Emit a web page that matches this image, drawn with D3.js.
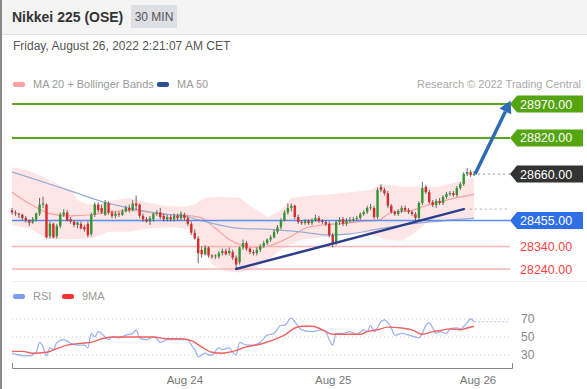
<!DOCTYPE html>
<html>
<head>
<meta charset="utf-8">
<script src="https://cdn.jsdelivr.net/npm/d3@7"></script>
<style>
  body { margin: 0; background: #fff; }
  svg { display: block; font-family: "Liberation Sans", Arial, sans-serif; }
</style>
</head>
<body>
<div id="chart"></div>
<script>
// candles, [open, high, low, close], 30 min bars
const ohlc = [
  [28500,28510,28480,28490],[28490,28500,28475,28485],[28485,28490,28465,28480],[28480,28485,28455,28465],
  [28465,28475,28445,28455],[28455,28460,28430,28445],[28445,28470,28440,28460],[28460,28490,28450,28485],
  [28485,28555,28475,28525],[28525,28560,28510,28530],[28525,28530,28375,28380],[28385,28450,28375,28440],
  [28440,28445,28375,28380],[28385,28440,28375,28430],[28430,28490,28420,28480],[28480,28505,28470,28490],
  [28490,28500,28450,28455],[28460,28470,28440,28450],[28450,28455,28425,28435],[28435,28450,28420,28445],
  [28440,28450,28415,28420],[28425,28435,28405,28415],[28440,28450,28380,28390],[28395,28490,28385,28480],
  [28480,28535,28470,28525],[28525,28535,28490,28500],[28510,28525,28485,28490],[28480,28545,28475,28535],
  [28530,28540,28480,28490],[28490,28500,28465,28475],[28475,28495,28465,28485],[28485,28495,28470,28480],
  [28480,28505,28475,28495],[28495,28520,28490,28510],[28510,28525,28490,28500],[28500,28545,28495,28530],
  [28530,28565,28500,28520],[28525,28530,28465,28475],[28475,28485,28450,28460],[28460,28470,28445,28450],
  [28450,28475,28435,28465],[28460,28490,28450,28485],[28485,28500,28475,28490],[28490,28510,28460,28470],
  [28475,28485,28450,28460],[28460,28480,28450,28470],[28470,28480,28450,28460],[28460,28485,28450,28475],
  [28475,28485,28455,28465],[28465,28495,28455,28485],[28480,28490,28455,28465],[28465,28475,28430,28440],
  [28440,28450,28390,28400],[28400,28415,28370,28375],[28375,28385,28265,28310],[28325,28340,28290,28305],
  [28305,28345,28300,28335],[28335,28340,28290,28300],[28300,28305,28285,28295],[28295,28305,28285,28300],
  [28295,28320,28285,28310],[28310,28330,28300,28320],[28320,28330,28300,28305],[28310,28335,28300,28320],
  [28315,28325,28280,28290],[28290,28300,28240,28260],[28270,28340,28260,28335],[28335,28370,28325,28355],
  [28355,28365,28320,28330],[28330,28335,28305,28315],[28315,28325,28300,28310],[28310,28335,28300,28325],
  [28325,28350,28315,28340],[28340,28365,28335,28355],[28355,28375,28345,28370],[28370,28390,28360,28380],
  [28380,28415,28375,28405],[28405,28435,28395,28425],[28425,28465,28415,28455],[28455,28500,28450,28490],
  [28490,28530,28480,28510],[28510,28530,28495,28520],[28520,28525,28460,28470],[28470,28480,28440,28448],
  [28448,28455,28435,28443],[28443,28460,28435,28452],[28452,28460,28435,28443],[28443,28465,28435,28457],
  [28457,28480,28448,28466],[28466,28475,28443,28452],[28452,28460,28440,28448],[28448,28455,28430,28440],
  [28440,28450,28380,28390],[28390,28400,28335,28355],[28355,28455,28345,28448],[28448,28470,28435,28457],
  [28460,28470,28430,28440],[28440,28465,28430,28452],[28452,28470,28445,28457],[28457,28470,28448,28461],
  [28461,28475,28452,28466],[28466,28490,28457,28483],[28483,28500,28475,28492],[28492,28520,28483,28510],
  [28510,28528,28500,28514],[28510,28520,28460,28470],[28470,28600,28460,28590],[28603,28615,28580,28590],
  [28590,28600,28565,28575],[28575,28585,28510,28520],[28520,28528,28485,28492],[28492,28500,28475,28483],
  [28483,28505,28475,28497],[28497,28520,28488,28510],[28510,28520,28492,28500],[28500,28510,28483,28492],
  [28492,28500,28475,28483],[28483,28492,28448,28466],[28466,28540,28457,28532],[28532,28625,28523,28598],
  [28603,28612,28572,28580],[28580,28590,28528,28536],[28536,28545,28514,28523],[28523,28550,28510,28541],
  [28541,28554,28523,28532],[28532,28567,28523,28559],[28559,28581,28550,28572],[28572,28585,28563,28576],
  [28576,28585,28559,28567],[28567,28607,28559,28598],[28598,28625,28590,28616],[28616,28669,28607,28660],
  [28660,28687,28651,28669],[28669,28678,28647,28656],[28656,28673,28651,28660]
];

// indicator readings as [bar index, value]
const bbUpper = [[0,28690],[4,28680],[8,28655],[12,28625],[17,28590],[19,28545],[22,28525],[26,28530],[30,28545],
  [34,28555],[39,28535],[44,28520],[50,28515],[53,28525],[56,28555],[60,28560],[66,28555],[71,28500],[74,28470],
  [78,28500],[81,28555],[87,28565],[92,28570],[98,28580],[104,28590],[107,28615],[113,28605],[119,28605],
  [124,28605],[129,28625],[134,28645]];
const bbLower = [[0,28435],[5,28420],[10,28375],[17,28370],[23,28375],[28,28405],[34,28405],[40,28420],[47,28425],
  [52,28415],[55,28345],[58,28260],[62,28230],[66,28225],[71,28245],[75,28290],[79,28335],[84,28370],[90,28380],
  [95,28385],[101,28405],[106,28385],[108,28370],[113,28365],[116,28390],[120,28440],[126,28450],[134,28455]];
const ma20 = [[0,28580],[5,28530],[11,28485],[17,28475],[23,28480],[28,28490],[34,28500],[40,28490],[46,28480],
  [52,28475],[55,28465],[59,28420],[63,28370],[68,28340],[72,28335],[76,28350],[81,28385],[85,28420],[90,28435],
  [95,28440],[101,28450],[106,28455],[110,28490],[116,28500],[120,28520],[126,28545],[134,28570]];
const ma50 = [[0,28670],[13,28605],[18,28580],[28,28530],[34,28510],[41,28490],[51,28470],[56,28450],[66,28420],
  [75,28415],[83,28405],[92,28390],[98,28395],[107,28420],[119,28445],[134,28465]];
const rsi = [[0,32],[2,30],[5,29],[7,33],[8,44],[9,39],[10,29],[11,38],[12,36],[13,44],[15,47],[17,43],[19,41],
  [21,41],[22,38],[23,54],[24,50],[25,56],[27,50],[28,47],[29,50],[31,49],[33,52],[35,54],[36,58],[37,49],[39,47],
  [41,50],[42,48],[43,44],[45,47],[48,47],[51,47],[52,41],[53,36],[54,28],[56,32],[57,30],[58,30],[60,38],[61,36],
  [63,38],[64,33],[65,30],[66,44],[68,41],[70,41],[72,44],[74,52],[76,54],[78,63],[79,63],[81,71],[82,67],[84,58],
  [87,56],[90,58],[91,56],[92,47],[93,41],[94,54],[96,54],[98,56],[100,53],[102,58],[103,56],[104,63],[105,56],
  [107,67],[108,69],[110,60],[111,52],[113,54],[115,52],[117,50],[118,49],[119,54],[120,63],[121,66],[122,60],
  [123,54],[124,56],[126,54],[127,59],[129,60],[130,59],[132,66],[133,70],[134,67]];
const rsiMa = [[0,34],[3,34],[6,32],[10,33],[13,37],[16,41],[20,43],[23,44],[26,48],[29,50],[33,50],[37,50],[41,50],
  [45,48],[49,48],[52,46],[55,39],[58,33],[61,32],[64,34],[68,39],[72,42],[76,47],[79,52],[82,60],[84,62],[87,62],
  [90,58],[93,53],[97,53],[101,53],[103,56],[106,58],[109,61],[113,60],[116,58],[119,53],[122,56],[124,57],
  [127,59],[130,58],[132,60],[134,62]];

// levels on the right
const levels = [
  {value: 28970, kind: "target"},
  {value: 28820, kind: "target"},
  {value: 28660, kind: "last"},
  {value: 28455, kind: "pivot"},
  {value: 28340, kind: "support"},
  {value: 28240, kind: "support"}
];
const trendLine = [[65,28240],[131,28505]];
const arrowPts = [[134.3,28660],[144.6,28985]];
const dayTicks = [[50,"Aug 24"],[93,"Aug 25"],[135,"Aug 26"]];
const rsiTicks = [70, 50, 30];

const W = 587, H = 389;
const svg = d3.select("#chart").append("svg").attr("width", W).attr("height", H);

const x = d3.scaleLinear().domain([0, 145]).range([12, 512]);
const y = d3.scaleLinear().domain([28240, 28970]).range([269, 104]);
const yr = d3.scaleLinear().domain([30, 70]).range([355, 319]);
const lineX = 510;

// header
svg.append("rect").attr("width", W).attr("height", 34).attr("fill", "#f4f4f4");
svg.append("line").attr("x1", 0).attr("x2", W).attr("y1", 34.5).attr("y2", 34.5).attr("stroke", "#e4e4e4");
svg.append("text").attr("x", 12).attr("y", 22).attr("font-size", 14).attr("font-weight", "bold")
  .attr("fill", "#333").text("Nikkei 225 (OSE)");
svg.append("rect").attr("x", 131).attr("y", 5).attr("width", 46).attr("height", 23).attr("fill", "#dcdfe4");
svg.append("text").attr("x", 154).attr("y", 21).attr("text-anchor", "middle").attr("font-size", 12)
  .attr("fill", "#555").text("30 MIN");
svg.append("text").attr("x", 13).attr("y", 50).attr("font-size", 12).attr("fill", "#555")
  .text("Friday, August 26, 2022 2:21:07 AM CET");
svg.append("line").attr("x1", 1).attr("x2", 1).attr("y1", 0).attr("y2", H).attr("stroke", "#888").attr("stroke-width", 2);

// legend
const legend = [[13, "#f9a0a0", "MA 20 + Bollinger Bands"], [157, "#2d4f91", "MA 50"]];
legend.forEach(([lx, col, txt]) => {
  svg.append("rect").attr("x", lx).attr("y", 82).attr("width", 12).attr("height", 5).attr("rx", 2).attr("fill", col);
  svg.append("text").attr("x", lx + 20).attr("y", 88).attr("font-size", 11).attr("fill", "#999").text(txt);
});
svg.append("text").attr("x", 581).attr("y", 88).attr("text-anchor", "end").attr("font-size", 11)
  .attr("fill", "#aaa").text("Research \u00a9 2022 Trading Central");

const main = svg.append("g");

// bollinger band fill
const bandPts = bbUpper.concat(bbLower.slice().reverse());
main.append("path")
  .attr("d", d3.line().x(d => x(d[0])).y(d => y(d[1])).curve(d3.curveLinearClosed)(bandPts))
  .attr("fill", "#ffe6e6").attr("stroke", "none");

const line = d3.line().x(d => x(d[0])).y(d => y(d[1])).curve(d3.curveMonotoneX);
main.append("path").attr("d", line(ma20)).attr("fill", "none").attr("stroke", "#f7a3a3").attr("stroke-width", 1.2);
main.append("path").attr("d", line(ma50)).attr("fill", "none").attr("stroke", "#98add6").attr("stroke-width", 1.2);

// horizontal levels
const levelStyle = {
  target: {stroke: "#5aa61e", width: 2, fill: "#55a511", text: "#fff"},
  last: {stroke: "#999", width: 1, fill: "#333", text: "#fff", dash: "2,3"},
  pivot: {stroke: "#5b8def", width: 1.5, fill: "#2f6fe6", text: "#fff"},
  support: {stroke: "#f8b4b4", width: 1.5, fill: null, text: "#f44"}
};
levels.forEach(l => {
  const s = levelStyle[l.kind];
  const yy = y(l.value);
  main.append("line")
    .attr("x1", l.kind === "last" ? 478 : 12).attr("x2", lineX)
    .attr("y1", yy).attr("y2", yy)
    .attr("stroke", s.stroke).attr("stroke-width", s.width)
    .attr("stroke-dasharray", s.dash || null);
  if (s.fill) {
    main.append("path")
      .attr("d", `M${lineX},${yy} L${lineX + 7},${yy - 8.5} H583 V${yy + 8.5} H${lineX + 7} Z`)
      .attr("fill", s.fill);
  }
  main.append("text").attr("x", 520).attr("y", yy + 4.5).attr("font-size", 12.5)
    .attr("fill", s.text).text(d3.format(".2f")(l.value));
});

// candles
const cw = 2.4;
const bars = main.selectAll(".bar").data(ohlc).enter().append("g").attr("class", "bar");
bars.append("line")
  .attr("x1", (d, i) => x(i)).attr("x2", (d, i) => x(i))
  .attr("y1", d => y(d[1])).attr("y2", d => y(d[2]))
  .attr("stroke", "#444").attr("stroke-width", 0.8);
bars.append("rect")
  .attr("x", (d, i) => x(i) - cw / 2).attr("width", cw)
  .attr("y", d => y(Math.max(d[0], d[3])))
  .attr("height", d => Math.max(1, Math.abs(y(d[0]) - y(d[3]))))
  .attr("fill", d => d[3] >= d[0] ? "#339633" : "#d62b2b");

// trend line + dotted extension
main.append("line")
  .attr("x1", x(trendLine[0][0])).attr("y1", y(trendLine[0][1]))
  .attr("x2", x(trendLine[1][0])).attr("y2", y(trendLine[1][1]))
  .attr("stroke", "#2b3f8c").attr("stroke-width", 2.5).attr("stroke-linecap", "round");
main.append("line")
  .attr("x1", x(trendLine[1][0]) + 6).attr("x2", lineX)
  .attr("y1", y(trendLine[1][1])).attr("y2", y(trendLine[1][1]))
  .attr("stroke", "#aaa").attr("stroke-dasharray", "2,3");

// forecast arrow
const [a0, a1] = arrowPts.map(p => [x(p[0]), y(p[1])]);
const ang = Math.atan2(a1[1] - a0[1], a1[0] - a0[0]);
const hl = 12, hw = 6.5;
const base = [a1[0] - hl * Math.cos(ang), a1[1] - hl * Math.sin(ang)];
main.append("line").attr("x1", a0[0]).attr("y1", a0[1]).attr("x2", base[0]).attr("y2", base[1])
  .attr("stroke", "#2e6bb3").attr("stroke-width", 3.5);
main.append("path")
  .attr("d", `M${a1[0]},${a1[1]} L${base[0] + hw * Math.sin(ang)},${base[1] - hw * Math.cos(ang)} L${base[0] - hw * Math.sin(ang)},${base[1] + hw * Math.cos(ang)} Z`)
  .attr("fill", "#2e6bb3");

// rsi panel
svg.append("line").attr("x1", 12).attr("x2", W).attr("y1", 281.5).attr("y2", 281.5).attr("stroke", "#eee");
const rl = [[13, "#7b9cf0", "RSI"], [62, "#f33", "9MA"]];
rl.forEach(([lx, col, txt]) => {
  svg.append("rect").attr("x", lx).attr("y", 294).attr("width", 12).attr("height", 5).attr("rx", 2).attr("fill", col);
  svg.append("text").attr("x", lx + 20).attr("y", 300).attr("font-size", 11).attr("fill", "#999").text(txt);
});
const rsiG = svg.append("g");
rsiTicks.forEach(t => {
  rsiG.append("line").attr("x1", 12).attr("x2", lineX).attr("y1", yr(t)).attr("y2", yr(t))
    .attr("stroke", "#ccc").attr("stroke-dasharray", "1,3");
  rsiG.append("text").attr("x", 521).attr("y", yr(t) + 4).attr("font-size", 12).attr("fill", "#888").text(t);
});
const rline = d3.line().x(d => x(d[0])).y(d => yr(d[1])).curve(d3.curveMonotoneX);
rsiG.append("path").attr("d", rline(rsi)).attr("fill", "none").attr("stroke", "#9db3f2").attr("stroke-width", 1.3);
rsiG.append("path").attr("d", rline(rsiMa)).attr("fill", "none").attr("stroke", "#f46060").attr("stroke-width", 1.4);
const lastRsi = rsi[rsi.length - 1];
rsiG.append("line").attr("x1", x(lastRsi[0])).attr("x2", lineX).attr("y1", yr(lastRsi[1])).attr("y2", yr(lastRsi[1]))
  .attr("stroke", "#b7c6f2").attr("stroke-dasharray", "2,2");

// time axis
const axis = d3.axisBottom(x)
  .tickValues(dayTicks.map(d => d[0]))
  .tickFormat(v => dayTicks.find(d => d[0] === v)[1])
  .tickSizeInner(0).tickSizeOuter(-5).tickPadding(8);
const ax = svg.append("g").attr("transform", "translate(0,368)").call(axis);
ax.select(".domain").attr("stroke", "#888");
ax.selectAll("text").attr("font-size", 11.5).attr("fill", "#777").attr("font-family", "Liberation Sans, Arial, sans-serif");
</script>
</body>
</html>
